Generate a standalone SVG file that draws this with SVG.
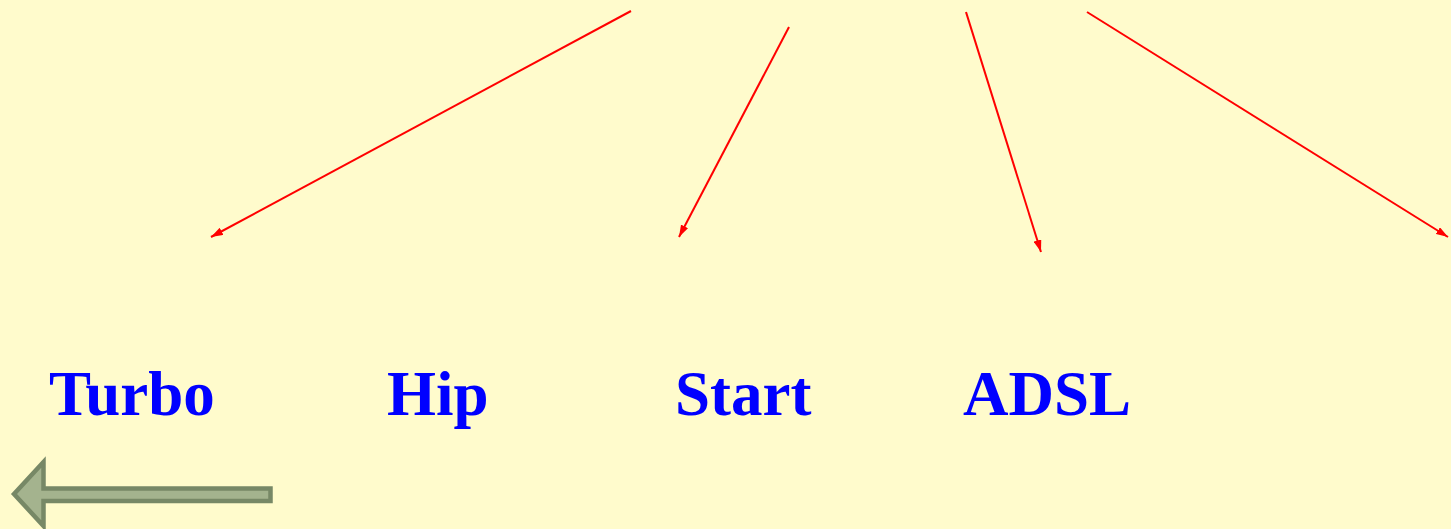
<svg xmlns="http://www.w3.org/2000/svg" width="1451" height="529" viewBox="0 0 1451 529">
<style>
.lbl{font-family:"Liberation Serif","Times New Roman",serif;font-weight:bold;font-size:63px;fill:#0000FF}
.con{stroke:#FF0000;stroke-width:2;fill:none}
</style>
<defs>
<marker id="ah" viewBox="0 0 12 8" refX="12" refY="4" markerWidth="12" markerHeight="8" markerUnits="userSpaceOnUse" orient="auto">
<path d="M0,0 L12,4 L0,8 z" fill="#FF0000"/>
</marker>
</defs>
<rect width="1451" height="529" fill="#FFFBCC"/>
<g id="connectors">
<line class="con" x1="631" y1="11" x2="211" y2="237" marker-end="url(#ah)"/>
<line class="con" x1="789" y1="27" x2="679" y2="237" marker-end="url(#ah)"/>
<line class="con" x1="966" y1="12" x2="1041" y2="252" marker-end="url(#ah)"/>
<line class="con" x1="1087" y1="12" x2="1448" y2="237" marker-end="url(#ah)"/>
</g>
<g id="turbo"><text class="lbl" x="49" y="415">Turbo</text></g>
<g id="hip"><text class="lbl" x="387" y="415">Hip</text></g>
<g id="start"><text class="lbl" x="675" y="415">Start</text></g>
<g id="adsl"><text class="lbl" x="963" y="415">ADSL</text></g>
<g id="back-arrow">
<polygon points="14,494 43.5,462 43.5,488.5 270.5,488.5 270.5,501 43.5,501 43.5,526" fill="#A4B38E" stroke="#778866" stroke-width="4.5" stroke-linejoin="miter"/>
</g>
</svg>
